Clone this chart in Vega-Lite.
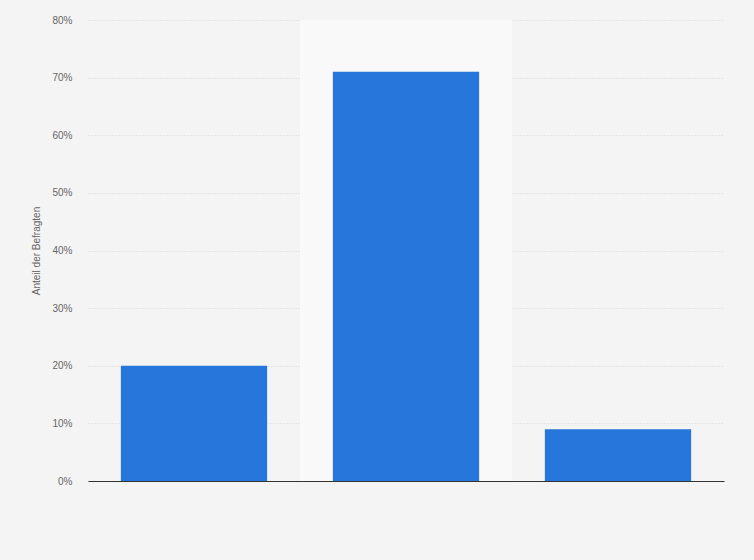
{
  "$schema": "https://vega.github.io/schema/vega-lite/v6.json",
  "autosize": "none",
  "width": 636,
  "height": 461,
  "padding": {"left": 88, "top": 20, "right": 30, "bottom": 79},
  "background": "#f4f4f4",
  "datasets": {
    "answers": [
      {"antwort": "A", "anteil": 0.20},
      {"antwort": "B", "anteil": 0.71},
      {"antwort": "C", "anteil": 0.09}
    ],
    "highlight": [
      {"antwort": "B", "top": 0.8}
    ]
  },
  "layer": [
    {
      "data": {"name": "highlight"},
      "mark": {"type": "bar", "width": 212, "color": "#f9f9f9"},
      "encoding": {
        "x": {"field": "antwort", "type": "nominal"},
        "y": {"field": "top", "type": "quantitative"}
      }
    },
    {
      "data": {"name": "answers"},
      "mark": {"type": "bar", "color": "#2776db"},
      "encoding": {
        "x": {
          "field": "antwort",
          "type": "nominal",
          "sort": null,
          "scale": {"domain": ["A", "B", "C"], "paddingInner": 0.31, "paddingOuter": 0.155},
          "axis": {"labels": false, "ticks": false, "title": null, "domainColor": "#333333", "domainWidth": 1.2, "grid": false}
        },
        "y": {
          "field": "anteil",
          "type": "quantitative",
          "scale": {"domain": [0, 0.8]},
          "axis": {
            "format": ".0%",
            "values": [0, 0.1, 0.2, 0.3, 0.4, 0.5, 0.6, 0.7, 0.8],
            "title": "Anteil der Befragten",
            "titleFontWeight": "normal",
            "titleFontSize": 10,
            "titleColor": "#666666",
            "titlePadding": 10,
            "labelColor": "#666666",
            "labelFontSize": 10,
            "labelPadding": 16,
            "ticks": false,
            "domain": false,
            "gridColor": "#d6d6d6",
            "gridDash": [1, 2]
          }
        }
      }
    }
  ],
  "config": {
    "view": {"stroke": null},
    "font": "Liberation Sans"
  }
}
